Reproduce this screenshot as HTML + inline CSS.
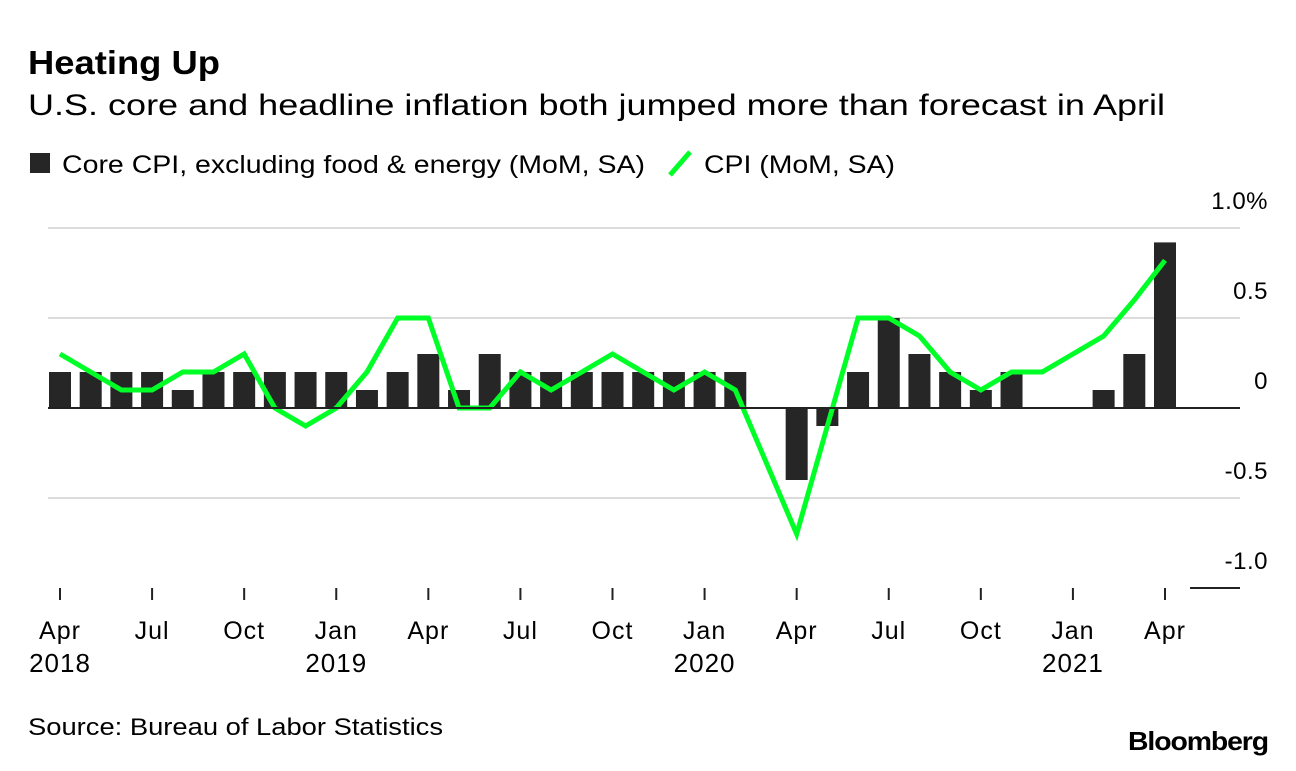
<!DOCTYPE html>
<html><head><meta charset="utf-8"><style>
body{margin:0;background:#fff;font-family:"Liberation Sans",sans-serif;color:#000}
svg text{font-family:"Liberation Sans",sans-serif}
</style></head><body>
<svg width="1296" height="766" xmlns="http://www.w3.org/2000/svg">
<text x="28" y="74" font-size="33" font-weight="bold" textLength="192" lengthAdjust="spacingAndGlyphs">Heating Up</text>
<text x="28" y="115" font-size="30" textLength="1137" lengthAdjust="spacingAndGlyphs">U.S. core and headline inflation both jumped more than forecast in April</text>
<g>
<rect x="30" y="153" width="20" height="20" fill="#262626"/>
<text x="62" y="173" font-size="25" textLength="583" lengthAdjust="spacingAndGlyphs">Core CPI, excluding food &amp; energy (MoM, SA)</text>
<line x1="670" y1="175" x2="690" y2="152" stroke="#00ff27" stroke-width="5"/>
<text x="704" y="173" font-size="25" textLength="191" lengthAdjust="spacingAndGlyphs">CPI (MoM, SA)</text>
</g>
<g id="grid"></g><g id="bars"></g><g id="line"></g><g id="axes"></g>
<text x="28" y="735" font-size="24" textLength="415" lengthAdjust="spacingAndGlyphs">Source: Bureau of Labor Statistics</text>
<text x="1128" y="750" font-size="26" font-weight="bold" textLength="140" lengthAdjust="spacingAndGlyphs" letter-spacing="-1">Bloomberg</text>
</svg>
<script>
const months=["Apr 2018","May","Jun","Jul","Aug","Sep","Oct","Nov","Dec","Jan 2019","Feb","Mar","Apr","May","Jun","Jul","Aug","Sep","Oct","Nov","Dec","Jan 2020","Feb","Mar","Apr","May","Jun","Jul","Aug","Sep","Oct","Nov","Dec","Jan 2021","Feb","Mar","Apr"];
const coreCPI=[0.2,0.2,0.2,0.2,0.1,0.2,0.2,0.2,0.2,0.2,0.1,0.2,0.3,0.1,0.3,0.2,0.2,0.2,0.2,0.2,0.2,0.2,0.2,0,-0.4,-0.1,0.2,0.5,0.3,0.2,0.1,0.2,0,0,0.1,0.3,0.92];
const cpi=[0.3,0.2,0.1,0.1,0.2,0.2,0.3,0,-0.1,0,0.2,0.5,0.5,0,0,0.2,0.1,0.2,0.3,0.2,0.1,0.2,0.1,-0.3,-0.7,-0.1,0.5,0.5,0.4,0.2,0.1,0.2,0.2,0.3,0.4,0.6,0.82];
const yTicks=[1.0,0.5,0,-0.5,-1.0];
const yTickLabels=["1.0%","0.5","0","-0.5","-1.0"];
const xTickIdx=[0,3,6,9,12,15,18,21,24,27,30,33,36];
const xTickLabels=["Apr","Jul","Oct","Jan","Apr","Jul","Oct","Jan","Apr","Jul","Oct","Jan","Apr"];
const xYearIdx=[0,9,21,33];
const xYearLabels=["2018","2019","2020","2021"];
const NS="http://www.w3.org/2000/svg";
const x=i=>60+i*(1165-60)/36;
const y=v=>408-v*180;
function mk(p,t,a){const e=document.createElementNS(NS,t);for(const k in a)e.setAttribute(k,a[k]);document.getElementById(p).appendChild(e);return e;}
yTicks.forEach((v,i)=>{
 if(v!==0&&v!==-1){const g=mk("grid","line",{x1:48,x2:1240,y1:y(v),y2:y(v),stroke:"#dcdcdc","stroke-width":2});
 
 }
 const t=mk("axes","text",{x:1268,y:y(v)-19,"font-size":24,"text-anchor":"end","letter-spacing":"0.5"});
 t.textContent=yTickLabels[i];
 
 
});
const zl=mk("axes","line",{x1:48,x2:1240,y1:y(0),y2:y(0),stroke:"#222","stroke-width":2});


const ml=mk("axes","line",{x1:1190,x2:1240,y1:y(-1),y2:y(-1),stroke:"#222","stroke-width":2});


coreCPI.forEach((v,i)=>{
 if(v===0)return;
 const r=mk("bars","rect",{x:x(i)-11,y:Math.min(y(v),y(0)),width:22,height:Math.abs(y(v)-y(0)),fill:"#262626"});
 
 
});
const pl=mk("line","polyline",{points:cpi.map((v,i)=>x(i)+","+y(v)).join(" "),fill:"none",stroke:"#00ff27","stroke-width":5,"stroke-linejoin":"miter"});


xTickIdx.forEach((m,i)=>{
 const tk=mk("axes","line",{x1:x(m),x2:x(m),y1:588,y2:600,stroke:"#222","stroke-width":2});
 
 
 const t=mk("axes","text",{x:x(m),y:639,"font-size":25,"text-anchor":"middle","letter-spacing":"1"});
 t.textContent=xTickLabels[i];
 
 
});
xYearIdx.forEach((m,i)=>{
 const t=mk("axes","text",{x:x(m),y:672,"font-size":26,"text-anchor":"middle","letter-spacing":"1"});
 t.textContent=xYearLabels[i];
 
 
});
</script>
</body></html>
